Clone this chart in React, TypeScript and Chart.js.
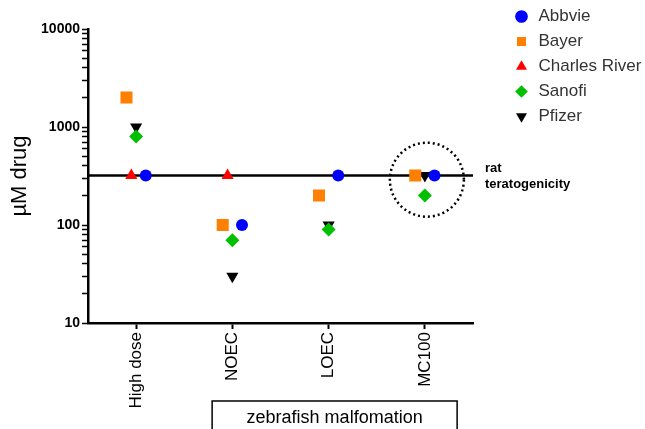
import { useEffect, useRef } from 'react';
import { Chart, registerables } from 'chart.js';

Chart.register(...registerables);

const categories = ['High dose', 'NOEC', 'LOEC', 'MC100'];
const abbvie: (number | null)[] = [320, 100, 320, 320];
const bayer: (number | null)[] = [2000, 100, 200, 320];
const charlesRiver: (number | null)[] = [320, 320, null, null];
const sanofi: (number | null)[] = [800, 70, 90, 200];
const pfizer: (number | null)[] = [1000, 30, 100, 320];
const ratTeratogenicity = 320;
const yTickLabels = [10, 100, 1000, 10000];
const yTitle = 'µM drug';
const ratLabel = ['rat', 'teratogenicity'];
const groupLabel = 'zebrafish malfomation';
const highlightCategory = 3;
const highlightValue = 290;

const FONT = 'Arial, "Liberation Sans", sans-serif';

const toPoints = (vals: (number | null)[], off: number) =>
  vals
    .map((v, i) => (v == null ? null : { x: i + off, y: v }))
    .filter((p) => p !== null) as { x: number; y: number }[];

const annotations = {
  id: 'annotations',
  afterDatasetsDraw(chart: any) {
    const { ctx, chartArea, scales } = chart;
    const xs = scales.x;
    const ys = scales.y;
    ctx.save();
    // dotted circle
    const cx = xs.getPixelForValue(highlightCategory) + 2;
    const cy = ys.getPixelForValue(highlightValue);
    ctx.beginPath();
    ctx.setLineDash([2, 3]);
    ctx.lineWidth = 2.5;
    ctx.strokeStyle = '#000';
    ctx.arc(cx, cy, 37, 0, Math.PI * 2);
    ctx.stroke();
    ctx.setLineDash([]);
    // rat teratogenicity label
    const ly = ys.getPixelForValue(ratTeratogenicity);
    ctx.fillStyle = '#000';
    ctx.font = `bold 13px ${FONT}`;
    ctx.textAlign = 'left';
    ctx.textBaseline = 'alphabetic';
    ctx.fillText(ratLabel[0], chartArea.right + 12, ly - 3);
    ctx.fillText(ratLabel[1], chartArea.right + 12, ly + 13);
    ctx.restore();
  },
  afterDraw(chart: any) {
    const { ctx, chartArea, scales } = chart;
    const xs = scales.x;
    const cx = (xs.getPixelForValue(1) + xs.getPixelForValue(3)) / 2 + 6;
    const w = 245;
    const top = chartArea.bottom + 78;
    ctx.save();
    ctx.strokeStyle = '#000';
    ctx.lineWidth = 1.5;
    ctx.strokeRect(cx - w / 2, top, w, 60);
    ctx.fillStyle = '#000';
    ctx.font = `18px ${FONT}`;
    ctx.textAlign = 'center';
    ctx.textBaseline = 'alphabetic';
    ctx.fillText(groupLabel, cx, top + 22);
    ctx.restore();
  },
};

export default function App() {
  const ref = useRef<HTMLCanvasElement>(null);
  useEffect(() => {
    document.body.style.margin = '0';
    const canvas = ref.current;
    if (!canvas) return;
    const chart = new Chart(canvas, {
      type: 'scatter',
      data: {
        datasets: [
          {
            label: 'Abbvie',
            data: toPoints(abbvie, 0.1),
            backgroundColor: '#0000FF',
            borderColor: '#0000FF',
            pointStyle: 'circle',
            pointRadius: 6,
            pointBorderWidth: 0,
          },
          {
            label: 'Bayer',
            data: toPoints(bayer, -0.1),
            backgroundColor: '#FF8000',
            borderColor: '#FF8000',
            pointStyle: 'rect',
            pointRadius: 8.5,
            pointBorderWidth: 0,
          },
          {
            label: 'Charles River',
            data: toPoints(charlesRiver, -0.05),
            backgroundColor: '#FF0000',
            borderColor: '#FF0000',
            pointStyle: 'triangle',
            pointRadius: 7,
            pointBorderWidth: 0,
          },
          {
            label: 'Sanofi',
            data: toPoints(sanofi, 0),
            backgroundColor: '#00C000',
            borderColor: '#00C000',
            pointStyle: 'rectRot',
            pointRadius: 7,
            pointBorderWidth: 0,
          },
          {
            label: 'Pfizer',
            data: toPoints(pfizer, 0),
            backgroundColor: '#000000',
            borderColor: '#000000',
            pointStyle: 'triangle',
            pointRotation: 180,
            pointRadius: 7,
            pointBorderWidth: 0,
          },
          {
            type: 'line',
            label: 'rat teratogenicity',
            data: [
              { x: -0.5, y: ratTeratogenicity },
              { x: categories.length - 0.5, y: ratTeratogenicity },
            ],
            borderColor: '#000000',
            borderWidth: 2.5,
            pointRadius: 0,
            fill: false,
          } as any,
        ],
      },
      options: {
        responsive: false,
        animation: false,
        layout: { padding: 0 },
        plugins: {
          tooltip: { enabled: false },
          legend: {
            display: true,
            position: 'right',
            align: 'start',
            maxWidth: 140,
            labels: {
              usePointStyle: true,
              boxWidth: 17,
              boxHeight: 9,
              padding: 8,
              color: '#333',
              font: { family: FONT, size: 17 },
              filter: (item: any) => item.text !== 'rat teratogenicity',
            },
          },
        },
        scales: {
          x: {
            type: 'linear',
            position: 'bottom',
            min: -0.5,
            max: categories.length - 0.5,
            afterBuildTicks: (scale: any) => {
              scale.ticks = categories.map((_, i) => ({ value: i }));
            },
            afterFit: (scale: any) => {
              scale.height = 106;
            },
            ticks: {
              autoSkip: false,
              minRotation: 90,
              maxRotation: 90,
              padding: 3,
              color: '#000',
              font: { family: FONT, size: 17 },
              callback: (v: any) => categories[Math.round(Number(v))] ?? '',
            },
            grid: {
              drawOnChartArea: false,
              drawTicks: true,
              tickLength: 6,
              tickWidth: 2,
              tickColor: '#000',
            },
            border: { display: true, color: '#000', width: 2.5 },
          },
          x2: {
            type: 'linear',
            axis: 'x',
            position: 'top',
            display: true,
            ticks: { display: false },
            grid: { display: false },
            border: { display: false },
            afterFit: (scale: any) => {
              scale.height = 29;
            },
          },
          y: {
            type: 'logarithmic',
            position: 'left',
            min: 10,
            max: 10000,
            afterBuildTicks: (scale: any) => {
              scale.ticks = scale.ticks.filter((t: any) => {
                const p = Math.pow(10, Math.floor(Math.log10(t.value) + 1e-9));
                const s = t.value / p;
                return Math.abs(s - Math.round(s)) < 1e-6;
              });
            },
            afterFit: (scale: any) => {
              scale.width = 88;
            },
            ticks: {
              autoSkip: false,
              padding: 2,
              color: '#000',
              font: { family: FONT, size: 14, weight: 'bold' },
              callback: (v: any) => (yTickLabels.includes(Number(v)) ? String(v) : ''),
            },
            grid: {
              drawOnChartArea: false,
              drawTicks: true,
              tickLength: 6,
              tickWidth: 1.5,
              tickColor: '#000',
            },
            border: { display: true, color: '#000', width: 2.5 },
            title: {
              display: true,
              text: yTitle,
              color: '#000',
              font: { family: FONT, size: 22 },
              padding: { top: 7, bottom: 0 },
            },
          },
          y2: {
            type: 'linear',
            axis: 'y',
            position: 'right',
            display: true,
            ticks: { display: false },
            grid: { display: false },
            border: { display: false },
            afterFit: (scale: any) => {
              scale.width = 32;
            },
          },
        },
      },
      plugins: [annotations],
    } as any);
    return () => chart.destroy();
  }, []);
  return (
    <div style={{ width: 645, height: 429 }}>
      <canvas ref={ref} width={645} height={429} style={{ display: 'block' }} />
    </div>
  );
}
